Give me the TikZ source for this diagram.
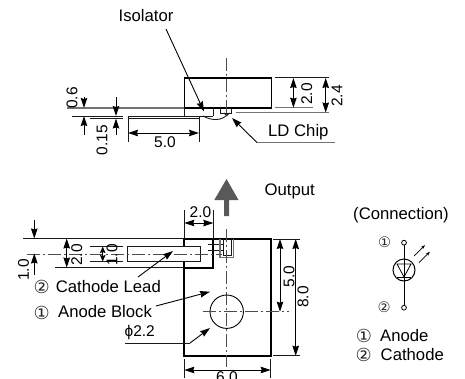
\documentclass[tikz,border=0pt]{standalone}
\usepackage{fontspec}
\setmainfont{Liberation Sans}
\newfontfamily\djv{DejaVu Sans}
\usetikzlibrary{arrows.meta}
\tikzset{
  px/.style={x=1pt,y=-1pt},
  tipA/.tip={Stealth[length=10pt,width=6.5pt,inset=1pt]},
  tipS/.tip={Stealth[length=6.5pt,width=5.5pt,inset=1pt]},
  body/.style={line width=1.7pt,draw=black,line join=miter},
  thin line/.style={line width=0.9pt,draw=black!90},
  extline/.style={line width=0.9pt,draw=black!90},
  grayline/.style={line width=1.1pt,draw=black!55},
  center line/.style={line width=0.9pt,draw=black!70,dash pattern=on 13pt off 3pt on 2pt off 3pt},
  dim/.style={line width=0.9pt,draw=black,tipA-tipA},
  dimsmall/.style={line width=0.9pt,draw=black,tipS-tipS},
  dimin/.style={line width=0.9pt,draw=black,-tipA},
  leader/.style={line width=0.9pt,draw=black,-tipA},
  lbl/.style={inner sep=0pt,font=\fontsize{16.7}{18}\selectfont,text=black},
  numtxt/.style={inner sep=0pt,font=\fontsize{15.5}{17}\selectfont,text=black},
  rlbl/.style={numtxt,rotate=90},
  numa/.style={inner sep=0pt,font=\djv\fontsize{18}{20}\selectfont,text=black!85},
  numb/.style={inner sep=0pt,font=\djv\fontsize{14.5}{16}\selectfont,text=black!85},
}
\begin{document}
\begin{tikzpicture}[px]
\useasboundingbox (0,0) rectangle (465,378);
\clip (0,0) rectangle (465,378);
% ---- side view
\draw[body] (184.5,78) rectangle (271.5,107.7);
\draw[thin line] (184.5,107.7) -- (184.5,116) (213,107.7) -- (213,116);
\draw[grayline] (67,108) -- (184,108);
\draw[thin line] (72,116) -- (123,116) (90,118.5) -- (123,118.5);
\draw[thin line] (184.5,116) -- (213,116);
\draw[thin line] (128,116.2) rectangle (199,118.7);
\draw[thin line] (220.7,108) -- (220.7,113) -- (231.7,113) -- (231.7,108);
\draw[thin line] (224,113) -- (226.7,115.5) -- (229.5,113);
\draw[grayline] (235.7,112.5) -- (329,112.5);
\draw[thin line] (275,77.5) -- (329,77.5);
\draw[grayline] (275,107.7) -- (313,107.7);
\draw[thin line] (203,116) .. controls (212,121) and (222,121) .. (228,114);
\draw[center line] (226.7,58) -- (226.7,115);
\draw[dim] (293.4,78) -- (293.4,107.7);
\draw[dim] (325.7,78) -- (325.7,112.5);
\node[rlbl] (d20a) at (306.7,94) {2.0};
\node[rlbl] (d24) at (337,96) {2.4};
\coordinate (a1) at (84,97); \coordinate (a2) at (84,108);
\coordinate (a3) at (84,135); \coordinate (a4) at (84,116);
\draw[dimin] (a1) -- (a2); \draw[dimin] (a3) -- (a4);
\coordinate (b1) at (116,97); \coordinate (b2) at (116,116);
\coordinate (b3) at (116,135); \coordinate (b4) at (116,118.5);
\draw[dimin] (b1) -- (b2); \draw[dimin] (b3) -- (b4);
\node[rlbl] (d06) at (72,98) {0.6};
\node[rlbl] (d015) at (102,140) {0.15};
\draw[extline] (128,118.7) -- (128,142) (199,118.7) -- (199,142);
\draw[dim] (128,133) -- (199,133);
\node[numtxt] (d50a) at (165,142) {5.0};
\node[lbl] (iso) at (146,16) {Isolator};
\coordinate (isof) at (166,29); \coordinate (isot) at (204,111.5);
\draw[leader] (isof) -- (isot);
\node[lbl,anchor=west] (ld) at (268,132.5) {LD Chip};
\coordinate (ldr) at (335,142.5); \coordinate (ldk) at (257,142.5); \coordinate (ldt) at (232,118);
\draw[grayline] (ldr) -- (ldk);
\draw[leader] (ldk) -- (ldt);
% ---- output arrow
\fill[black!65] (224.2,216) -- (224.2,200) -- (214.3,200) -- (226.5,179) -- (238.5,200) -- (229,200) -- (229,216) -- cycle;
\node[lbl,anchor=west] (out) at (264.5,191.5) {Output};
% ---- top view
\draw[body] (184.3,247) -- (184.3,239) -- (270.7,239) -- (270.7,355.7) -- (184.3,355.7) -- (184.3,261.5);
\draw[body] (184.3,268.2) -- (213.3,268.2) -- (213.3,239);
\draw[thin line] (127,246.5) rectangle (200,261.5);
\draw[extline] (208,244.3) -- (223,244.3) (208,250) -- (223,250);
\draw[grayline] (220,239) -- (220,257.3) -- (233.3,257.3) -- (233.3,239);
\draw[thin line] (223,239) -- (223,255) -- (231.7,255) -- (231.7,239);
\draw[thin line] (23,238.5) -- (184,238.5) (55,267.5) -- (184,267.5);
\draw[thin line] (90,246.5) -- (123,246.5) (90,261.5) -- (123,261.5);
\draw[center line] (27,254) -- (222,254);
\draw[center line] (226.7,229) -- (226.7,367);
\draw[line width=0.9pt] (226.7,311.7) circle (16.7);
\draw[center line] (202.7,311.7) -- (289,311.7);
\draw[extline] (184.3,210) -- (184.3,238) (213.3,210) -- (213.3,238);
\draw[dim] (184.3,223) -- (213.3,223);
\node[numtxt] (d20b) at (200.5,212.5) {2.0};
\draw[extline] (273,239) -- (300,239) (273,355.7) -- (300,355.7);
\draw[dim] (280,239) -- (280,311.7);
\draw[dim] (295.7,239) -- (295.7,355.7);
\node[rlbl] (d50b) at (289,276.5) {5.0};
\node[rlbl] (d80) at (303,297) {8.0};
\draw[extline] (184.3,359) -- (184.3,378) (270.7,359) -- (270.7,378);
\draw[dim] (184.3,370) -- (270.7,370);
\node[numtxt,anchor=north] (d60) at (227,371.5) {6.0};
\draw[dim] (66.7,238.5) -- (66.7,267.5);
\node[rlbl] (d20c) at (76.7,255) {2.0};
\draw[dimsmall] (102.7,246.5) -- (102.7,261.5);
\node[rlbl] (d10a) at (112,255) {1.0};
\coordinate (c1) at (34.3,220); \coordinate (c2) at (34.3,238.5);
\coordinate (c3) at (34.3,275); \coordinate (c4) at (34.3,253.5);
\draw[dimin] (c1) -- (c2); \draw[dimin] (c3) -- (c4);
\node[rlbl] (d10b) at (23.5,270) {1.0};
% ---- leaders
\node[lbl,anchor=west] (cl) at (55.7,287) {Cathode Lead};
\node[numa] (cln) at (41.7,287.3) {②};
\coordinate (clf) at (138,277); \coordinate (clt) at (173,251);
\draw[leader] (clf) -- (clt);
\node[lbl,anchor=west] (ab) at (58,311.5) {Anode Block};
\node[numa] (abn) at (41.7,312.5) {①};
\coordinate (abf) at (156,306); \coordinate (abt) at (210,291.7);
\draw[leader] (abf) -- (abt);
\node[numtxt,anchor=east] (phi) at (155,332) {ϕ2.2};
\coordinate (ph0) at (125,343); \coordinate (ph1) at (190,343); \coordinate (ph2) at (210,328);
\draw[thin line] (ph0) -- (ph1);
\draw[leader] (ph1) -- (ph2);
% ---- connection
\node[lbl] (conn) at (401,215) {(Connection)};
\draw[line width=0.9pt] (404,245) -- (404,305.4);
\draw[line width=0.8pt,fill=white] (404,242.7) circle (2.4);
\draw[line width=0.8pt,fill=white] (404,307.7) circle (2.4);
\draw[line width=1pt] (404,270) circle (11);
\draw[line width=0.8pt] (397,264) -- (411,264) -- (404,277) -- cycle;
\draw[line width=1.2pt] (397,277.3) -- (411,277.3);
\draw[line width=0.7pt,-{Stealth[length=4.5pt,width=3pt]}] (414,256) -- (425,245);
\draw[line width=0.7pt,-{Stealth[length=4.5pt,width=3pt]}] (419,262.7) -- (430,251.7);
\node[numb] (n1) at (384.7,242.7) {①};
\node[numb] (n2) at (384.2,307.7) {②};
\node[numa] (l1) at (364,336) {①};
\node[numa] (l2) at (363.7,355) {②};
\node[lbl,anchor=west] (an) at (380,336) {Anode};
\node[lbl,anchor=west] (ca) at (380.5,355) {Cathode};
\end{tikzpicture}
\end{document}
